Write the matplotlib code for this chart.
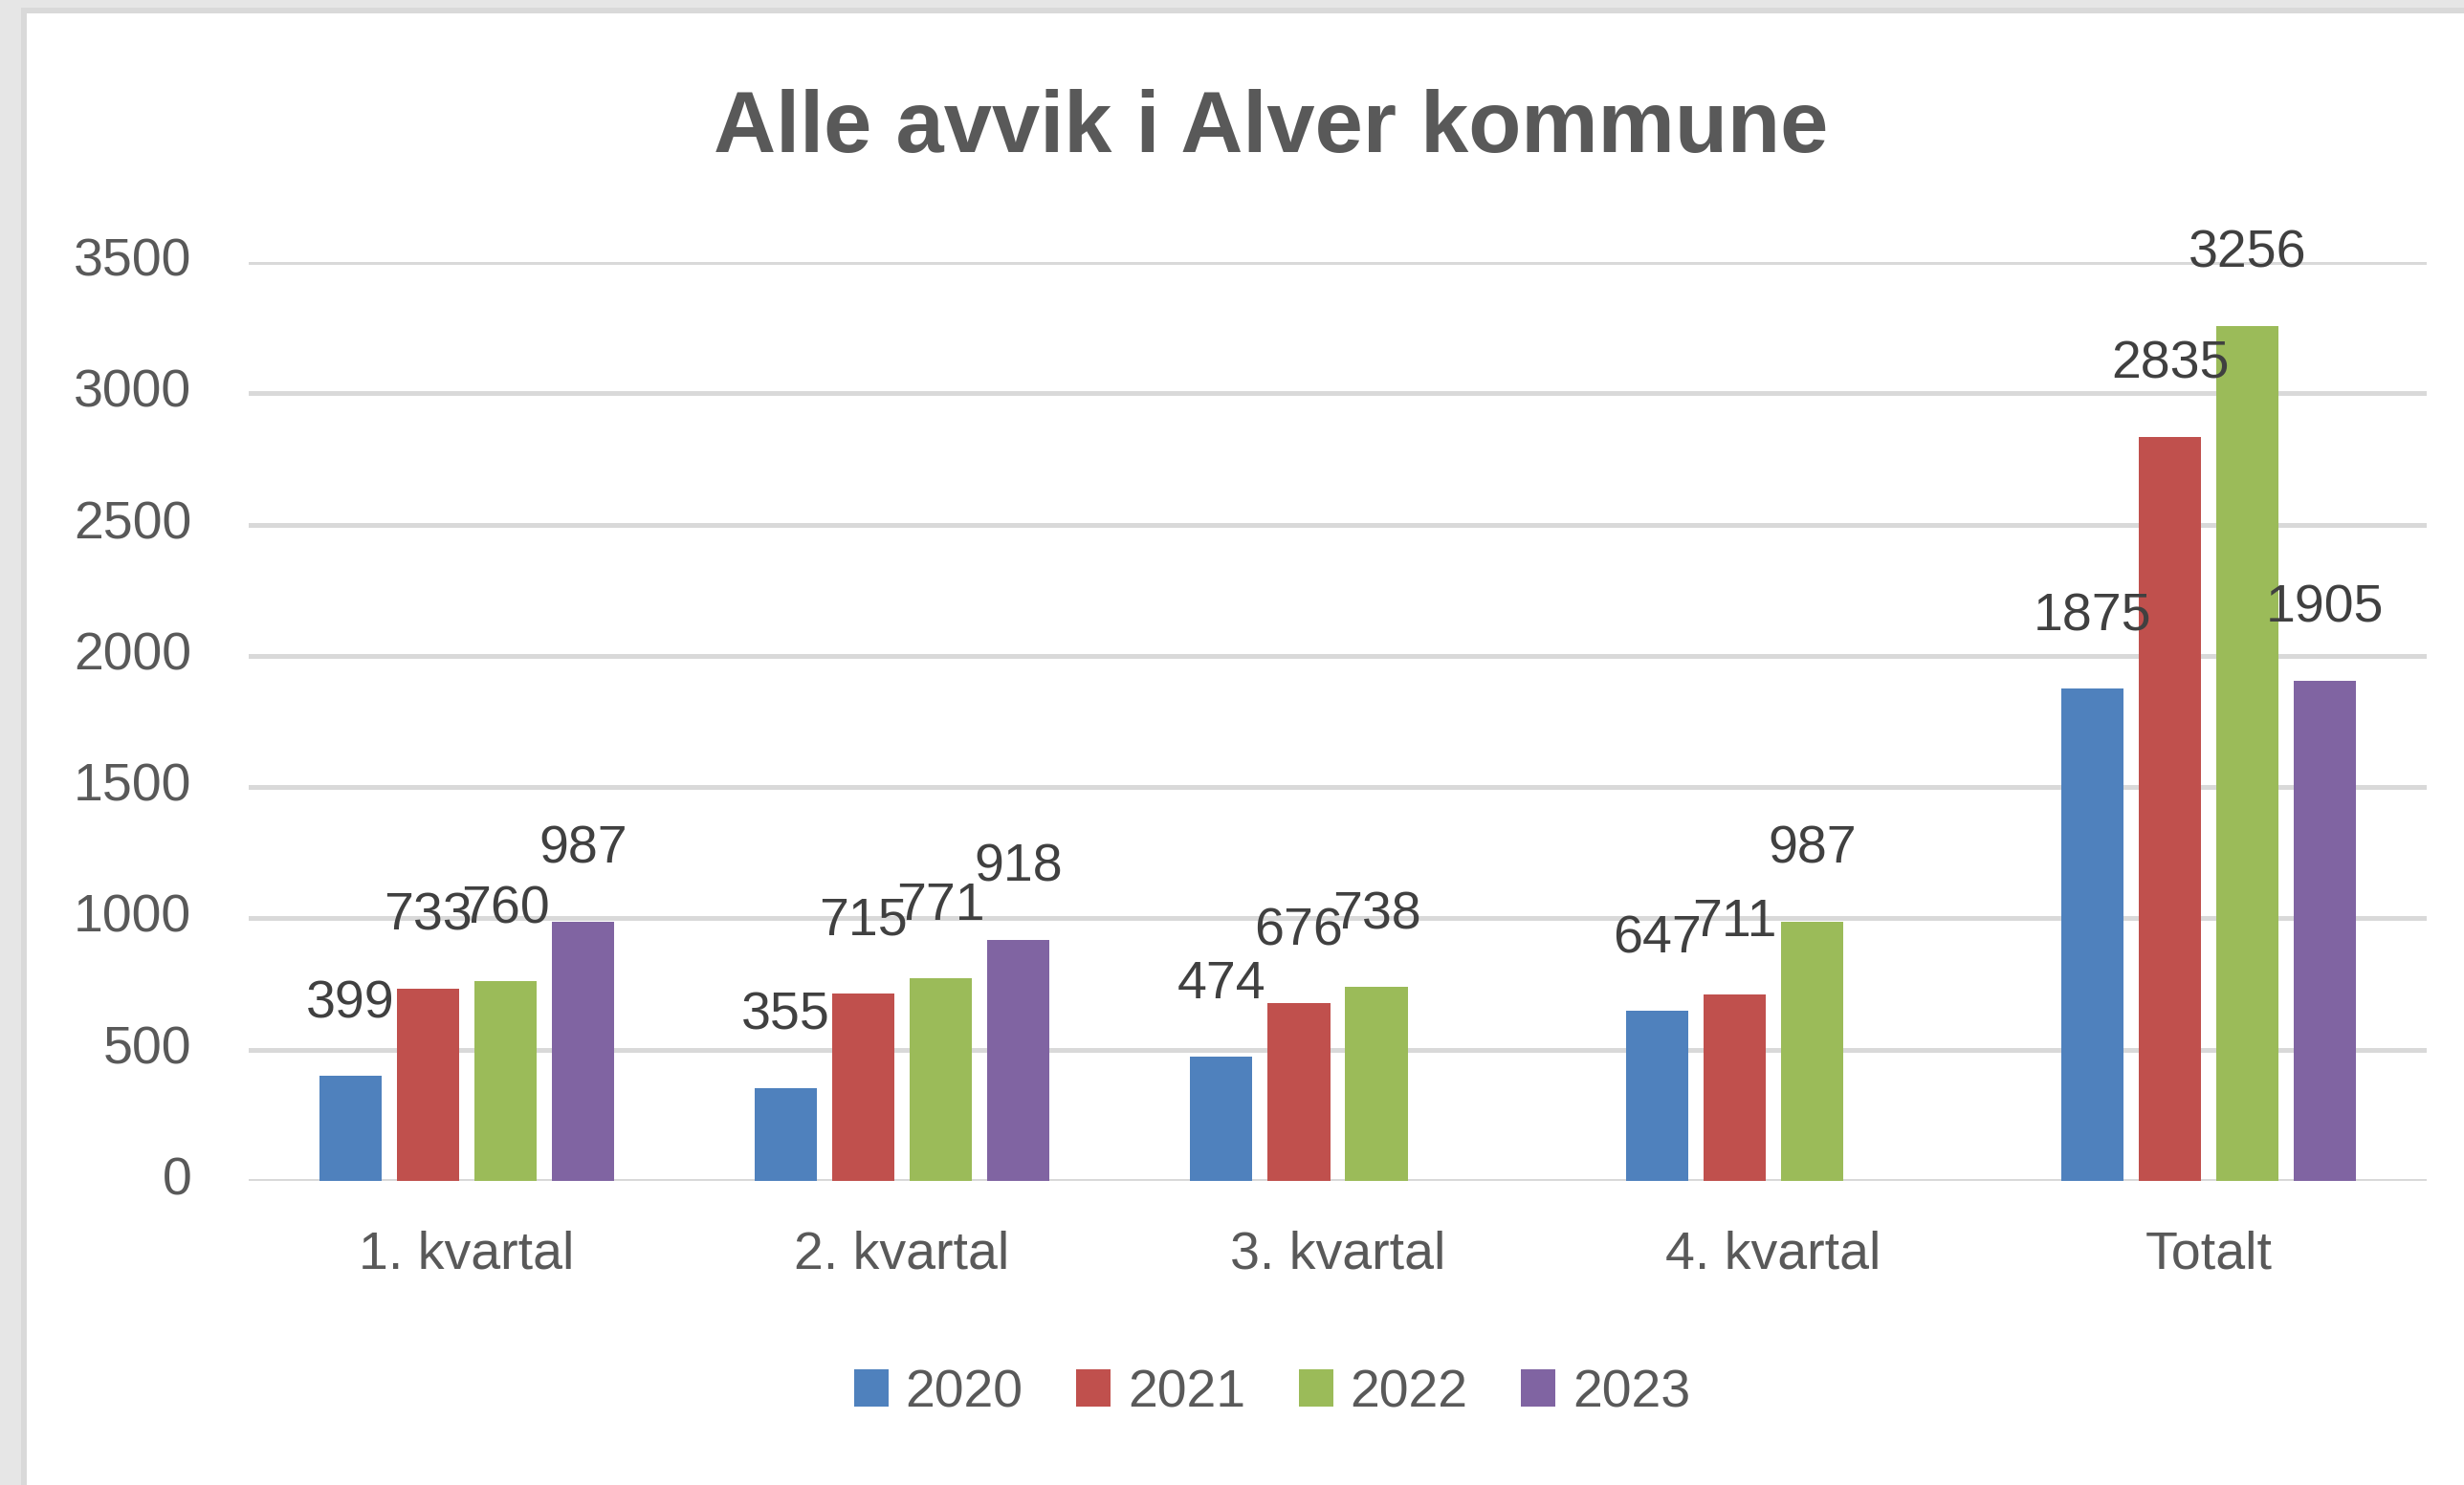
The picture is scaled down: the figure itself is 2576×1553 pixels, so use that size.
import numpy as np
import matplotlib.pyplot as plt
import matplotlib.transforms as mtransforms
from matplotlib.patches import Rectangle, Patch

# Data
categories = ['1. kvartal', '2. kvartal', '3. kvartal', '4. kvartal', 'Totalt']
years = ['2020', '2021', '2022', '2023']
v2020 = [399, 355, 474, 647, 1875]
v2021 = [733, 715, 676, 711, 2835]
v2022 = [760, 771, 738, 987, 3256]
v2023 = [987, 918, None, None, 1905]
series = [v2020, v2021, v2022, v2023]
colors = ['#4F81BD', '#C0504D', '#9BBB59', '#8064A2']

plt.rcParams['font.family'] = ['Liberation Sans', 'DejaVu Sans']

fig = plt.figure(figsize=(25.76, 15.53), dpi=100)
fig.patch.set_facecolor('#e6e6e6')

# white chart area with a thin grey border on top/left
fig.add_artist(Rectangle((25 / 2576, -0.1), 1.2, 1 - 11 / 1553 + 0.1,
                         transform=fig.transFigure, facecolor='white',
                         edgecolor='#d9d9d9', linewidth=4.3, zorder=0))

ax = fig.add_axes([260 / 2576, 1 - 1235 / 1553, (2537 - 260) / 2576,
                   (1235 - 274) / 1553])
ax.set_facecolor('none')

x = np.arange(len(categories))
pitch = 0.178
width = 0.143
for i, (vals, col) in enumerate(zip(series, colors)):
    xs = x + (i - 1.5) * pitch
    for xi, v in zip(xs, vals):
        if v is None:
            continue
        ax.bar(xi, v, width=width, color=col, zorder=2)
        ax.annotate(str(v), (xi, v), xytext=(0, 54), textcoords='offset points',
                    ha='center', va='center', fontsize=40, color='#404040',
                    zorder=3)

ax.set_xlim(-0.5, len(categories) - 0.5)
ax.set_ylim(0, 3500)
ax.set_yticks(np.arange(0, 3501, 500))
ax.set_xticks(x)
ax.set_xticklabels(categories)
ax.tick_params(axis='both', length=0, labelsize=40, labelcolor='#595959')
ax.tick_params(axis='y', pad=43)
ax.tick_params(axis='x', pad=37)
ax.yaxis.grid(True, color='#d9d9d9', linewidth=3.6, zorder=0)
ax.set_axisbelow(True)
for s in ax.spines.values():
    s.set_visible(False)

# y tick labels sit a little above their gridlines
shift = mtransforms.ScaledTranslation(0, 4 / 72, fig.dpi_scale_trans)
for lbl in ax.get_yticklabels():
    lbl.set_transform(lbl.get_transform() + shift)

fig.text(1329 / 2576, 1 - 136 / 1553, 'Alle avvik i Alver kommune',
         ha='center', va='center', fontsize=65, fontweight='bold',
         color='#595959')

handles = [Patch(facecolor=c, edgecolor='none') for c in colors]
leg = fig.legend(handles, years, loc='center', ncol=4, frameon=False,
                 bbox_to_anchor=(1330 / 2576, 1 - 1457 / 1553), fontsize=40,
                 handlelength=0.65, handleheight=0.68, handletextpad=0.32,
                 columnspacing=1.0)
for t in leg.get_texts():
    t.set_color('#595959')

fig.savefig('out.png', dpi=100, facecolor=fig.get_facecolor())
